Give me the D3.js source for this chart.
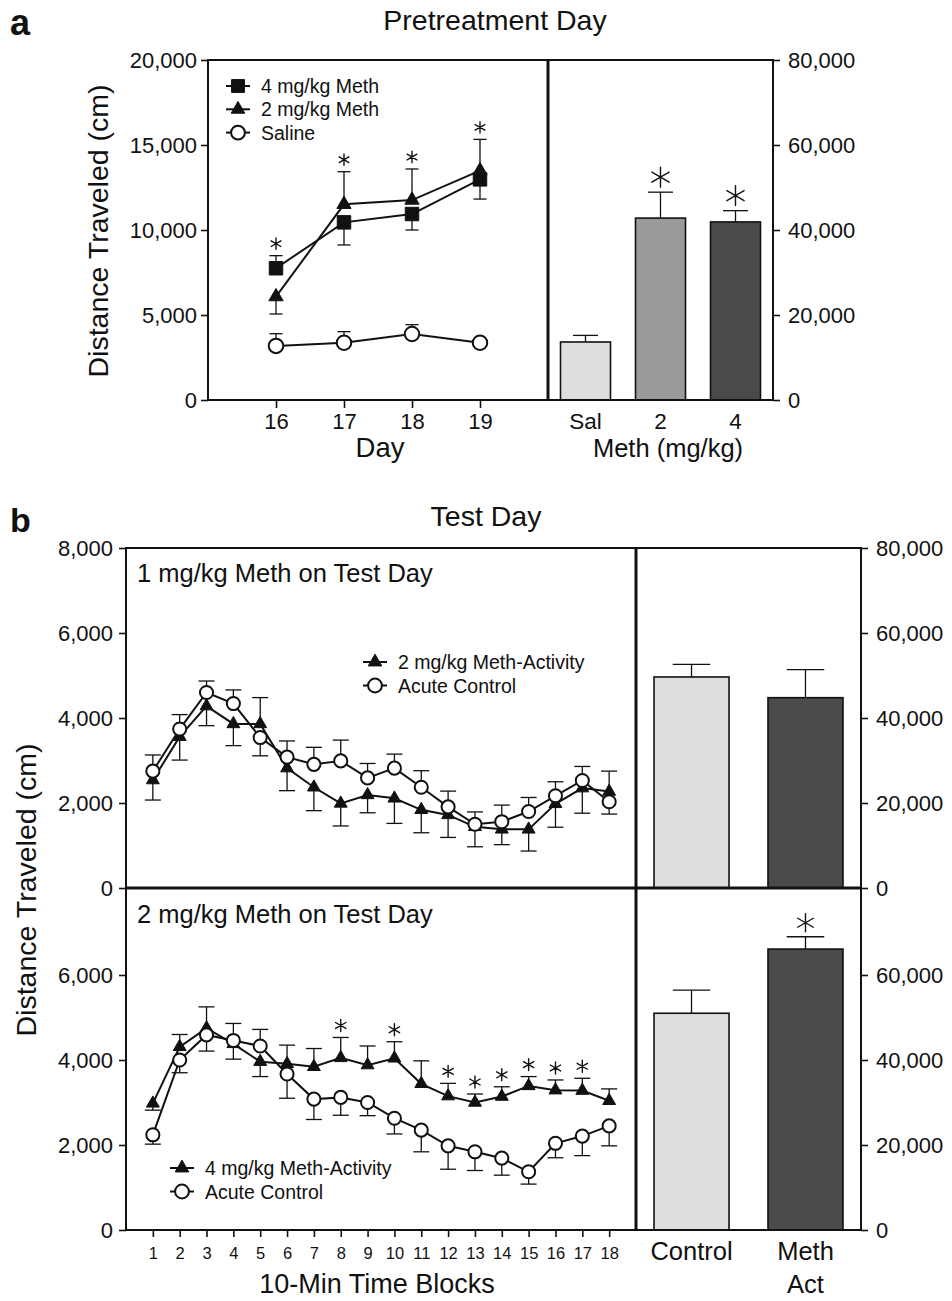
<!DOCTYPE html>
<html lang="en">
<head>
<meta charset="UTF-8">
<title>Pretreatment Day / Test Day</title>
<script src="https://d3js.org/d3.v7.min.js"></script>
<style>
  body { margin: 0; background: #fff; }
  svg { display: block; font-family: "Liberation Sans", Arial, sans-serif; }
  .tick line { stroke: #111; stroke-width: 1.6px; }
  .tick text { fill: #111; }
  .frame { fill: none; stroke: #111; stroke-width: 2px; }
  .divider { stroke: #111; stroke-width: 3px; }
  .err { stroke: #111; stroke-width: 1.3px; fill: none; }
  .series { fill: none; stroke: #111; stroke-width: 2px; }
  .star { fill: none; stroke: #111; stroke-width: 1.4px; stroke-linecap: round; }
  .lbl { fill: #111; }
</style>
</head>
<body>
<script>
// ---- panel a: pretreatment days 16-19 ----
const days = [16, 17, 18, 19];
const pre4Mean = [7750, 10450, 10940, 12980];
const pre4Sem  = [740, 1330, 940, 1160];
const pre4Dir  = [1, -1, -1, -1];
const pre2Mean = [6080, 11510, 11760, 13490];
const pre2Sem  = [1020, 1920, 1830, 1840];
const pre2Dir  = [-1, 1, 1, 1];
const preSalMean = [3180, 3370, 3880, 3370];
const preSalSem  = [720, 650, 550, 150];
const preSalDir  = [1, 1, 1, 1];
const preSig = [16, 17, 18, 19];

const preBarCats = ["Sal", "2", "4"];
const preBarMean = [13650, 42800, 41900];
const preBarSem  = [1550, 6100, 2650];
const preBarFill = ["#dedede", "#9a9a9a", "#4a4a4a"];
const preBarSig  = ["2", "4"];

// ---- panel b: test day, 10-min blocks ----
const blocks = [1, 2, 3, 4, 5, 6, 7, 8, 9, 10, 11, 12, 13, 14, 15, 16, 17, 18];
// 1 mg/kg test day
const t1ActMean = [2540, 3560, 4280, 3860, 3860, 2820, 2370, 1990, 2190, 2110, 1840, 1720, 1440, 1380, 1380, 1980, 2350, 2270];
const t1ActSem  = [470, 550, 460, 510, 620, 530, 550, 530, 420, 590, 540, 530, 470, 360, 510, 550, 590, 480];
const t1ActDir  = [-1, -1, -1, -1, 1, -1, -1, -1, -1, -1, -1, -1, -1, -1, -1, -1, -1, 1];
const t1CtlMean = [2750, 3740, 4600, 4340, 3540, 3080, 2910, 2990, 2590, 2820, 2370, 1910, 1500, 1560, 1800, 2170, 2530, 2030];
const t1CtlSem  = [380, 340, 270, 320, 430, 380, 400, 490, 340, 330, 390, 370, 290, 390, 330, 330, 330, 290];
const t1CtlDir  = [1, 1, 1, 1, -1, 1, 1, 1, 1, 1, 1, 1, 1, 1, 1, 1, 1, -1];
const t1Sig = [];
// 2 mg/kg test day
const t2ActMean = [2980, 4310, 4750, 4380, 3960, 3910, 3840, 4050, 3880, 4040, 3440, 3150, 3000, 3140, 3390, 3290, 3280, 3040];
const t2ActSem  = [160, 290, 500, 360, 350, 440, 430, 480, 450, 390, 540, 300, 200, 230, 220, 240, 290, 280];
const t2ActDir  = [-1, 1, 1, -1, -1, 1, 1, 1, 1, 1, 1, 1, 1, 1, 1, 1, 1, 1];
const t2CtlMean = [2240, 4000, 4590, 4460, 4330, 3670, 3080, 3120, 3000, 2630, 2350, 1980, 1840, 1690, 1370, 2040, 2210, 2450];
const t2CtlSem  = [220, 300, 380, 400, 390, 570, 480, 420, 310, 370, 510, 550, 440, 400, 290, 340, 460, 470];
const t2CtlDir  = [-1, -1, -1, 1, 1, -1, -1, -1, -1, -1, -1, -1, -1, -1, -1, -1, -1, -1];
const t2Sig = [8, 10, 12, 13, 14, 15, 16, 17];

const testBarCats = ["Control", "Meth Act"];
const testBarFill = ["#dedede", "#4a4a4a"];
const t1BarMean = [49650, 44780];
const t1BarSem  = [2980, 6580];
const t1BarSig  = [];
const t2BarMean = [51000, 66100];
const t2BarSem  = [5450, 2900];
const t2BarSig  = ["Meth Act"];

const fmt = d3.format(",");
const svg = d3.select("body").append("svg").attr("width", 952).attr("height", 1301);

const shapes = {
  square:   { type: d3.symbolSquare,   size: 165, fill: "#111" },
  triangle: { type: d3.symbolTriangle, size: 80,  fill: "#111" },
  circle:   { type: d3.symbolCircle,   size: 150, fill: "#fff" }
};

function drawMarker(g, shape, cx, cy, scale) {
  const s = shapes[shape];
  g.append("path")
    .attr("transform", `translate(${cx},${cy})`)
    .attr("d", d3.symbol().type(s.type).size(s.size * (scale || 1))())
    .attr("fill", s.fill).attr("stroke", "#111").attr("stroke-width", shape === "circle" ? 2 : 1);
}

function drawStar(g, cx, cy, size) {
  g.append("path").attr("class", "star")
    .attr("transform", `translate(${cx},${cy})`)
    .attr("d", d3.symbol().type(d3.symbolAsterisk).size(size)());
}

// line panel: error bars, connecting lines, markers, significance stars
function linePanel(g, x, y, xs, series, sig, cap, mScale, starSize) {
  series.forEach(s => {
    xs.forEach((d, i) => {
      const y0 = y(s.mean[i]), y1 = y(s.mean[i] + s.dir[i] * s.sem[i]);
      g.append("line").attr("class", "err").attr("x1", x(d)).attr("x2", x(d)).attr("y1", y0).attr("y2", y1);
      g.append("line").attr("class", "err").attr("x1", x(d) - cap / 2).attr("x2", x(d) + cap / 2).attr("y1", y1).attr("y2", y1);
    });
  });
  series.forEach(s => {
    g.append("path").attr("class", "series")
      .datum(xs.map((d, i) => [d, s.mean[i]]))
      .attr("d", d3.line().x(p => x(p[0])).y(p => y(p[1])));
  });
  series.forEach(s => {
    xs.forEach((d, i) => drawMarker(g, s.shape, x(d), y(s.mean[i]), mScale));
  });
  sig.forEach(d => {
    const i = xs.indexOf(d);
    const top = d3.max(series, s => s.mean[i] + Math.max(0, s.dir[i]) * s.sem[i]);
    drawStar(g, x(d), y(top) - 12, starSize);
  });
}

function barPanel(g, x, y, cats, mean, sem, fill, sig, starSize, starGap) {
  cats.forEach((c, i) => {
    const cx = x(c) + x.bandwidth() / 2, yt = y(mean[i] + sem[i]);
    g.append("line").attr("class", "err").attr("stroke-width", 1.8)
      .attr("x1", cx).attr("x2", cx).attr("y1", y(mean[i])).attr("y2", yt);
    g.append("line").attr("class", "err").attr("stroke-width", 1.8)
      .attr("x1", cx - x.bandwidth() / 4).attr("x2", cx + x.bandwidth() / 4).attr("y1", yt).attr("y2", yt);
    g.append("rect").attr("x", x(c)).attr("width", x.bandwidth())
      .attr("y", y(mean[i])).attr("height", y(0) - y(mean[i]))
      .attr("fill", fill[i]).attr("stroke", "#111").attr("stroke-width", 1.6);
    if (sig.includes(c)) drawStar(g, cx, yt - starGap, starSize);
  });
}

function legend(g, x0, y0, rows, gap, size) {
  rows.forEach((r, i) => {
    const cy = y0 + i * gap;
    g.append("line").attr("class", "series").attr("x1", x0 - 12).attr("x2", x0 + 12).attr("y1", cy).attr("y2", cy);
    drawMarker(g, r.shape, x0, cy, 1);
    g.append("text").attr("class", "lbl").attr("x", x0 + 23).attr("y", cy).attr("dy", "0.36em")
      .attr("font-size", size).text(r.label);
  });
}

const noDomain = g => g.select(".domain").remove();

// ================= panel a =================
const aL = 208, aM = 548, aR = 773, aT = 60, aB = 400;
const xDay = d3.scaleLinear().domain([15, 20]).range([aL, aM]);
const yPre = d3.scaleLinear().domain([0, 20000]).range([aB, aT]);
const xPreBar = d3.scaleBand().domain(preBarCats).range([aM, aR]).paddingInner(1 / 3).paddingOuter(1 / 6);
const yPreBar = d3.scaleLinear().domain([0, 80000]).range([aB, aT]);

const ga = svg.append("g");
svg.append("text").attr("x", 10).attr("y", 35).attr("font-size", 36).attr("font-weight", "bold").attr("class", "lbl").text("a");
svg.append("text").attr("x", 495).attr("y", 30).attr("font-size", 28.5).attr("text-anchor", "middle").attr("class", "lbl").text("Pretreatment Day");

ga.append("g").attr("transform", `translate(${aL},0)`)
  .call(d3.axisLeft(yPre).tickValues([0, 5000, 10000, 15000, 20000]).tickFormat(fmt).tickSize(7).tickPadding(4))
  .call(noDomain).selectAll("text").attr("font-size", 22);
ga.append("g").attr("transform", `translate(0,${aB})`)
  .call(d3.axisBottom(xDay).tickValues(days).tickFormat(d3.format("d")).tickSize(8).tickPadding(5))
  .call(noDomain).selectAll("text").attr("font-size", 22);
ga.append("g").attr("transform", `translate(${aR},0)`)
  .call(d3.axisRight(yPreBar).tickValues([0, 20000, 40000, 60000, 80000]).tickFormat(fmt).tickSize(7).tickPadding(8))
  .call(noDomain).selectAll("text").attr("font-size", 22);
ga.append("g").attr("transform", `translate(0,${aB})`)
  .call(d3.axisBottom(xPreBar).tickSize(0).tickPadding(13))
  .call(noDomain).selectAll("text").attr("font-size", 22.5);

linePanel(ga, xDay, yPre, days, [
  { mean: preSalMean, sem: preSalSem, dir: preSalDir, shape: "circle" },
  { mean: pre2Mean, sem: pre2Sem, dir: pre2Dir, shape: "triangle" },
  { mean: pre4Mean, sem: pre4Sem, dir: pre4Dir, shape: "square" }
], preSig, 13, 1.1, 90);
legend(ga, 238, 86, [
  { label: "4 mg/kg Meth", shape: "square" },
  { label: "2 mg/kg Meth", shape: "triangle" },
  { label: "Saline", shape: "circle" }
], 23.3, 19.5);
barPanel(ga, xPreBar, yPreBar, preBarCats, preBarMean, preBarSem, preBarFill, preBarSig, 280, 15);

ga.append("rect").attr("class", "frame").attr("x", aL).attr("y", aT).attr("width", aR - aL).attr("height", aB - aT);
ga.append("line").attr("class", "divider").attr("x1", aM).attr("x2", aM).attr("y1", aT).attr("y2", aB);

ga.append("text").attr("class", "lbl").attr("x", (aL + aM) / 2 + 2).attr("y", 457).attr("text-anchor", "middle").attr("font-size", 27.5).text("Day");
ga.append("text").attr("class", "lbl").attr("x", 668).attr("y", 457).attr("text-anchor", "middle").attr("font-size", 25.5).text("Meth (mg/kg)");
ga.append("text").attr("class", "lbl").attr("transform", `translate(108,${(aT + aB) / 2 + 1}) rotate(-90)`)
  .attr("text-anchor", "middle").attr("font-size", 28.5).text("Distance Traveled (cm)");

// ================= panel b =================
const bL = 126, bM = 636, bR = 861, bT = 548, bH = 888, bB = 1230;
const xBlk = d3.scaleLinear().domain([0, 19]).range([bL, bM]);
const yTop = d3.scaleLinear().domain([0, 8000]).range([bH, bT]);
const yBot = d3.scaleLinear().domain([0, 8000]).range([bB, bH + 2]);
const yTopBar = d3.scaleLinear().domain([0, 80000]).range([bH, bT]);
const yBotBar = d3.scaleLinear().domain([0, 80000]).range([bB, bH + 2]);
const xTestBar = d3.scaleBand().domain(testBarCats).range([bM, bR]).paddingInner(0.342).paddingOuter(0.158);

const gb = svg.append("g");
svg.append("text").attr("x", 10).attr("y", 532).attr("font-size", 34).attr("font-weight", "bold").attr("class", "lbl").text("b");
svg.append("text").attr("x", 486).attr("y", 526).attr("font-size", 28.5).attr("text-anchor", "middle").attr("class", "lbl").text("Test Day");

gb.append("g").attr("transform", `translate(${bL},0)`)
  .call(d3.axisLeft(yTop).tickValues([0, 2000, 4000, 6000, 8000]).tickFormat(fmt).tickSize(7).tickPadding(6))
  .call(noDomain).selectAll("text").attr("font-size", 22);
gb.append("g").attr("transform", `translate(${bL},0)`)
  .call(d3.axisLeft(yBot).tickValues([0, 2000, 4000, 6000]).tickFormat(fmt).tickSize(7).tickPadding(6))
  .call(noDomain).selectAll("text").attr("font-size", 22);
gb.append("g").attr("transform", `translate(${bR},0)`)
  .call(d3.axisRight(yTopBar).tickValues([0, 20000, 40000, 60000, 80000]).tickFormat(fmt).tickSize(7).tickPadding(8))
  .call(noDomain).selectAll("text").attr("font-size", 22);
gb.append("g").attr("transform", `translate(${bR},0)`)
  .call(d3.axisRight(yBotBar).tickValues([0, 20000, 40000, 60000]).tickFormat(fmt).tickSize(7).tickPadding(8))
  .call(noDomain).selectAll("text").attr("font-size", 22);
gb.append("g").attr("transform", `translate(0,${bB})`)
  .call(d3.axisBottom(xBlk).tickValues(blocks).tickFormat(d3.format("d")).tickSize(7).tickPadding(10))
  .call(noDomain).selectAll("text").attr("font-size", 16.5);
gb.append("g").attr("transform", `translate(0,${bB})`)
  .call(d3.axisBottom(xTestBar).tickSize(0).tickPadding(12))
  .call(noDomain).selectAll("text").attr("font-size", 25.5)
  .each(function (d) {
    const t = d3.select(this), parts = d.split(" ");
    t.text(null);
    parts.forEach((p, k) => t.append("tspan").attr("x", 0).attr("dy", k === 0 ? "0.71em" : "1.3em").text(p));
    t.attr("dy", null);
  });

linePanel(gb, xBlk, yTop, blocks, [
  { mean: t1ActMean, sem: t1ActSem, dir: t1ActDir, shape: "triangle" },
  { mean: t1CtlMean, sem: t1CtlSem, dir: t1CtlDir, shape: "circle" }
], t1Sig, 16, 0.9, 100);
linePanel(gb, xBlk, yBot, blocks, [
  { mean: t2ActMean, sem: t2ActSem, dir: t2ActDir, shape: "triangle" },
  { mean: t2CtlMean, sem: t2CtlSem, dir: t2CtlDir, shape: "circle" }
], t2Sig, 16, 0.9, 100);
legend(gb, 375, 662, [
  { label: "2 mg/kg Meth-Activity", shape: "triangle" },
  { label: "Acute Control", shape: "circle" }
], 23.5, 19.5);
legend(gb, 182, 1168, [
  { label: "4 mg/kg Meth-Activity", shape: "triangle" },
  { label: "Acute Control", shape: "circle" }
], 23.5, 19.5);
barPanel(gb, xTestBar, yTopBar, testBarCats, t1BarMean, t1BarSem, testBarFill, t1BarSig, 230, 14);
barPanel(gb, xTestBar, yBotBar, testBarCats, t2BarMean, t2BarSem, testBarFill, t2BarSig, 230, 14);

gb.append("rect").attr("class", "frame").attr("x", bL).attr("y", bT).attr("width", bR - bL).attr("height", bB - bT);
gb.append("line").attr("class", "divider").attr("x1", bM).attr("x2", bM).attr("y1", bT).attr("y2", bB);
gb.append("line").attr("class", "divider").attr("x1", bL).attr("x2", bR).attr("y1", bH).attr("y2", bH);

gb.append("text").attr("class", "lbl").attr("x", 137).attr("y", 582).attr("font-size", 25.5).text("1 mg/kg Meth on Test Day");
gb.append("text").attr("class", "lbl").attr("x", 137).attr("y", 923).attr("font-size", 25.5).text("2 mg/kg Meth on Test Day");
gb.append("text").attr("class", "lbl").attr("x", 377).attr("y", 1293).attr("text-anchor", "middle").attr("font-size", 27).text("10-Min Time Blocks");
gb.append("text").attr("class", "lbl").attr("transform", `translate(36,${bH + 2}) rotate(-90)`)
  .attr("text-anchor", "middle").attr("font-size", 28.5).text("Distance Traveled (cm)");
</script>
</body>
</html>
